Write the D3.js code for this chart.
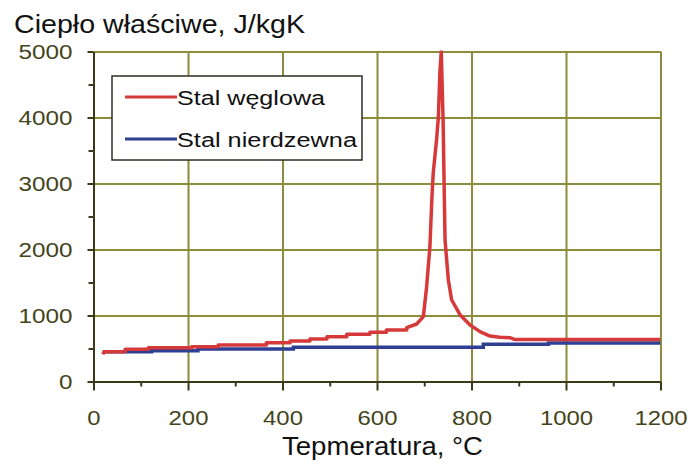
<!DOCTYPE html>
<html>
<head>
<meta charset="utf-8">
<script src="https://cdn.jsdelivr.net/npm/d3@7"></script>
<style>
  body { margin: 0; background: #fff; }
  svg { display: block; font-family: "Liberation Sans", Arial, sans-serif; }
  .grid line { stroke: #8c8c3a; stroke-width: 2; }
  .grid path { display: none; }
  .axis path, .axis line { stroke: #3a3a18; stroke-width: 2; }
  .axis text { fill: #44441a; font-size: 19.5px; }
  .minor path { display: none; }
  .minor line { stroke: #3a3a18; stroke-width: 2; }
</style>
</head>
<body>
<div id="chart"></div>
<script>
/* data */
var xTicks = [0, 200, 400, 600, 800, 1000, 1200];
var yTicks = [0, 1000, 2000, 3000, 4000, 5000];

var carbonT = [20, 22, 67, 67, 116, 116, 208, 208, 264, 264, 366, 366, 416, 416, 458, 458, 494, 494, 536, 536, 585, 585, 620, 620, 663, 663, 684, 698, 702, 705, 712, 716, 719, 726, 730, 733, 736, 740, 742, 744, 751, 758, 776, 797, 818, 839, 860, 881, 892, 1200];
var carbonC = [410, 450, 450, 488, 488, 512, 512, 527, 527, 553, 553, 588, 588, 614, 614, 644, 644, 679, 679, 715, 715, 745, 745, 780, 780, 815, 871, 982, 1235, 1436, 2042, 2750, 3158, 3659, 4012, 4674, 5000, 3917, 3008, 2144, 1538, 1235, 1008, 856, 755, 689, 670, 664, 636, 636];

var stainlessT = [20, 123, 221, 423, 825, 963, 1200];
var stainlessC = [450, 467, 492, 518, 564, 585, 585];

var seriesNames = ["Stal węglowa", "Stal nierdzewna"];
var seriesColors = ["#d6393a", "#2f3f92"];

var w = 690, h = 464;

var xScale = d3.scaleLinear().domain([0, 1200]).range([93.5, 660.5]);
var yScale = d3.scaleLinear().domain([0, 5000]).range([381.5, 51.5]);

var svg = d3.select("#chart").append("svg").attr("width", w).attr("height", h);

var plotW = xScale(1200) - xScale(0);
var plotH = yScale(0) - yScale(5000);
var fmt = d3.format("d");

/* gridlines */
svg.append("g")
	.attr("class", "grid")
	.attr("transform", "translate(0," + yScale(0) + ")")
	.call(d3.axisBottom(xScale).tickValues(xTicks.slice(1)).tickSize(-plotH).tickFormat(""));

svg.append("g")
	.attr("class", "grid")
	.attr("transform", "translate(" + xScale(0) + ",0)")
	.call(d3.axisLeft(yScale).tickValues(yTicks.slice(1)).tickSize(-plotW).tickFormat(""));

/* minor ticks */
svg.append("g")
	.attr("class", "minor")
	.attr("transform", "translate(0," + yScale(0) + ")")
	.call(d3.axisBottom(xScale).tickValues(xTicks.slice(1).map(function (d) { return d - 100; })).tickSize(5).tickFormat(""));

svg.append("g")
	.attr("class", "minor")
	.attr("transform", "translate(" + xScale(0) + ",0)")
	.call(d3.axisLeft(yScale).tickValues(yTicks.slice(1).map(function (d) { return d - 500; })).tickSize(5).tickFormat(""));

/* axes */
var xAxisG = svg.append("g")
	.attr("class", "axis")
	.attr("transform", "translate(0," + yScale(0) + ")")
	.call(d3.axisBottom(xScale).tickValues(xTicks).tickFormat(fmt).tickSize(9).tickSizeOuter(0));
xAxisG.selectAll("text")
	.attr("y", 43).attr("dy", 0)
	.attr("textLength", function (d) { return fmt(d).length * 13.3; })
	.attr("lengthAdjust", "spacingAndGlyphs");

var yAxisG = svg.append("g")
	.attr("class", "axis")
	.attr("transform", "translate(" + xScale(0) + ",0)")
	.call(d3.axisLeft(yScale).tickValues(yTicks).tickFormat(fmt).tickSize(6).tickPadding(15).tickSizeOuter(0));
yAxisG.selectAll("text")
	.attr("dy", "0.36em")
	.attr("textLength", function (d) { return fmt(d).length * 13.5; })
	.attr("lengthAdjust", "spacingAndGlyphs");

/* series */
var carbon = carbonT.map(function (t, i) { return [t, carbonC[i]]; });
var stainless = stainlessT.map(function (t, i) { return [t, stainlessC[i]]; });

svg.append("defs").append("clipPath").attr("id", "clip")
	.append("rect")
	.attr("x", xScale(0)).attr("y", yScale(5000) - 1)
	.attr("width", plotW).attr("height", plotH + 2);

var plotG = svg.append("g").attr("clip-path", "url(#clip)");

plotG.append("path")
	.datum(stainless)
	.attr("fill", "none")
	.attr("stroke", seriesColors[1])
	.attr("stroke-width", 3.5)
	.attr("d", d3.line()
		.x(function (d) { return xScale(d[0]); })
		.y(function (d) { return yScale(d[1]); })
		.curve(d3.curveStepAfter));

plotG.append("path")
	.datum(carbon)
	.attr("fill", "none")
	.attr("stroke", seriesColors[0])
	.attr("stroke-width", 3.5)
	.attr("stroke-linejoin", "round")
	.attr("d", d3.line()
		.x(function (d) { return xScale(d[0]); })
		.y(function (d) { return yScale(d[1]); }));

/* legend */
var legend = svg.append("g").attr("transform", "translate(112,76)");
legend.append("rect")
	.attr("width", 250).attr("height", 84)
	.attr("fill", "#fff").attr("stroke", "#2e2e22").attr("stroke-width", 1.5);

var legendWidths = [148, 180];
seriesNames.forEach(function (name, i) {
	var yy = 21 + i * 42;
	legend.append("line")
		.attr("x1", 13).attr("x2", 65).attr("y1", yy).attr("y2", yy)
		.attr("stroke", seriesColors[i]).attr("stroke-width", 3);
	legend.append("text")
		.attr("x", 65).attr("y", yy + 8)
		.attr("font-size", "20px").attr("fill", "#111")
		.attr("textLength", legendWidths[i]).attr("lengthAdjust", "spacingAndGlyphs")
		.text(name);
});

/* title and axis label */
svg.append("text")
	.attr("x", 14).attr("y", 33)
	.attr("font-size", "25px").attr("fill", "#111")
	.attr("textLength", 291).attr("lengthAdjust", "spacingAndGlyphs")
	.text("Ciepło właściwe, J/kgK");

svg.append("text")
	.attr("x", 382.5).attr("y", 455)
	.attr("text-anchor", "middle")
	.attr("font-size", "26px").attr("fill", "#111")
	.attr("textLength", 201).attr("lengthAdjust", "spacingAndGlyphs")
	.text("Tepmeratura, °C");
</script>
</body>
</html>
